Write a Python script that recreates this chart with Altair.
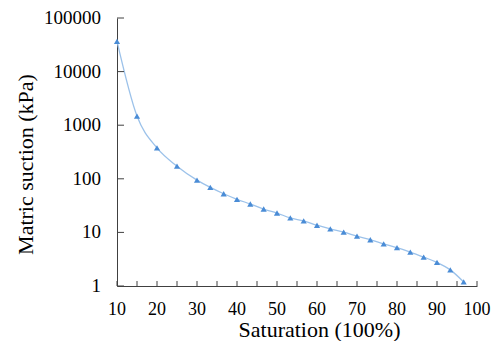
import altair as alt
import pandas as pd

saturation = [10, 15, 20, 25, 30, 33.33, 36.67, 40, 43.33, 46.67, 50, 53.33, 56.67,
              60, 63.33, 66.67, 70, 73.33, 76.67, 80, 83.33, 86.67, 90, 93.33, 96.67]
suction = [36700, 1480, 377, 172, 94.6, 69, 52.6, 41.4, 33.9, 27.3, 23.0, 18.6, 16.4,
           13.6, 11.6, 10.1, 8.5, 7.3, 6.1, 5.2, 4.3, 3.46, 2.75, 2.0, 1.19]

x_tick_values = [10, 15, 20, 25, 30, 35, 40, 45, 50, 55, 60, 65, 70, 75, 80, 85, 90, 95, 100]
x_label_values = [10, 20, 30, 40, 50, 60, 70, 80, 90, 100]
x_label_texts = ["10", "20", "30", "40", "50", "60", "70", "80", "90", "100"]
y_tick_values = [1, 10, 100, 1000, 10000, 100000]
y_label_texts = ["1", "10", "100", "1000", "10000", "100000"]

FONT = "Liberation Serif"
AXIS_COLOR = "#404040"
W, H = 360, 268

df = pd.DataFrame({"s": saturation, "m": suction})
xt = pd.DataFrame({"s": x_tick_values})
yt = pd.DataFrame({"m": y_tick_values, "t": y_label_texts})
xl = pd.DataFrame({"s": x_label_values, "t": x_label_texts})

xscale = alt.Scale(domain=[10, 100], nice=False, zero=False)
yscale = alt.Scale(type="log", domain=[1, 100000], nice=False)

xaxis = alt.Axis(values=x_label_values, title="Saturation (100%)", labels=False,
                 titleX=202, titleY=50, titleBaseline="alphabetic", grid=False, ticks=False,
                 titleFont=FONT, titleFontSize=22, titleFontWeight="normal",
                 titleColor="black", domainColor=AXIS_COLOR)
yaxis = alt.Axis(values=y_tick_values, title="Matric suction (kPa)", labels=False,
                 titleX=-80, titleY=146, grid=False, ticks=False,
                 titleFont=FONT, titleFontSize=22, titleFontWeight="normal",
                 titleColor="black", domainColor=AXIS_COLOR)

X = alt.X("s:Q", scale=xscale, axis=xaxis)
Y = alt.Y("m:Q", scale=yscale, axis=yaxis)

line = alt.Chart(df).mark_line(interpolate="monotone", color="#9CC2EA", strokeWidth=1.3).encode(
    x=X, y=Y)
pts = alt.Chart(df).mark_point(shape="triangle-up", filled=True, color="#4A8CD6",
                               opacity=1, size=38).encode(x=X, y=Y)
xticks = alt.Chart(xt).mark_rule(color=AXIS_COLOR, strokeWidth=1).encode(
    x=X, y=alt.value(H), y2=alt.value(H - 5))
yticks = alt.Chart(yt).mark_rule(color=AXIS_COLOR, strokeWidth=1).encode(
    y=Y, x=alt.value(0), x2=alt.value(7))
xlabels = alt.Chart(xl).mark_text(font=FONT, fontSize=18, color="black", align="center",
                                  baseline="alphabetic").encode(
    x=X, y=alt.value(H + 28.5), text="t:N")
ylabels = alt.Chart(yt).mark_text(font=FONT, fontSize=19, color="black", align="right",
                                  baseline="middle").encode(
    y=Y, x=alt.value(-16), text="t:N")

chart = alt.layer(line, xticks, yticks, pts, xlabels, ylabels).properties(
    width=W, height=H,
    autosize=alt.AutoSizeParams(type="none"),
    padding={"left": 109, "top": 10, "right": 16, "bottom": 55},
    background="white",
).configure_view(strokeWidth=0)

chart.save("out.html", embed_options={"renderer": "svg", "actions": False})
